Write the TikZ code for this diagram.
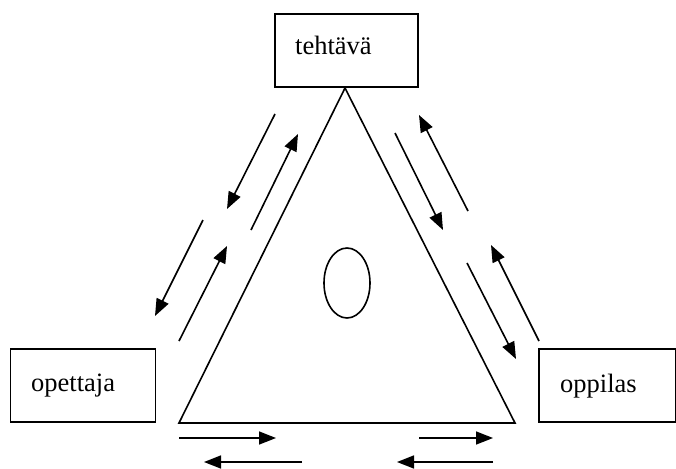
\documentclass[tikz,border=0pt]{standalone}
\usepackage{fontspec}
\setmainfont{Liberation Serif}
\usetikzlibrary{arrows.meta,shapes.geometric}
\begin{document}
\begin{tikzpicture}[x=1pt,y=-1pt,
  box/.style={draw,line width=1.6pt,rectangle,inner sep=0pt},
  lbl/.style={anchor=west,inner sep=0pt,font=\fontsize{26.5}{30}\selectfont},
  flow/.style={line width=1.6pt,-{Triangle[length=17pt,width=13pt]}},
  edge/.style={line width=1.6pt,line join=miter}]
\useasboundingbox (0,0) rectangle (676,468);
% boxes
\node[box,minimum width=143pt,minimum height=73pt] (teht) at (346.5,50.5) {};
\node[lbl] (tehtlbl) at (295,45) {tehtävä};
\node[box,minimum width=145pt,minimum height=73pt] (opet) at (83,385.5) {};
\node[lbl] (opetlbl) at (31,386) {opettaja};
\node[box,minimum width=137pt,minimum height=73pt] (oppi) at (607.5,385.5) {};
\node[lbl] (oppilbl) at (560,386) {oppilas};
% triangle
\coordinate (apex) at (345,88);
\coordinate (bl) at (179,423);
\coordinate (br) at (515,423);
\draw[edge] (apex) -- (bl) -- (br) -- cycle;
% ellipse
\node[draw,line width=1.6pt,ellipse,minimum width=46pt,minimum height=70pt,inner sep=0pt] (oval) at (347,283) {};
% left side arrows
\coordinate (a1) at (275,114); \coordinate (a2) at (227,209);
\coordinate (b1) at (251,230); \coordinate (b2) at (298,134);
\coordinate (c1) at (203,220); \coordinate (c2) at (155,316);
\coordinate (d1) at (179,341); \coordinate (d2) at (227,246);
\draw[flow] (a1) -- (a2);
\draw[flow] (b1) -- (b2);
\draw[flow] (c1) -- (c2);
\draw[flow] (d1) -- (d2);
% right side arrows
\coordinate (e1) at (468,211); \coordinate (e2) at (419,115);
\coordinate (f1) at (395,133); \coordinate (f2) at (443,230);
\coordinate (g1) at (539,341); \coordinate (g2) at (491,245);
\coordinate (h1) at (467,263); \coordinate (h2) at (516,359);
\draw[flow] (e1) -- (e2);
\draw[flow] (f1) -- (f2);
\draw[flow] (g1) -- (g2);
\draw[flow] (h1) -- (h2);
% bottom arrows
\coordinate (i1) at (179,438); \coordinate (i2) at (276,438);
\coordinate (j1) at (302,462); \coordinate (j2) at (204,462);
\coordinate (k1) at (419,438); \coordinate (k2) at (493,438);
\coordinate (l1) at (493,462); \coordinate (l2) at (397,462);
\draw[flow] (i1) -- (i2);
\draw[flow] (j1) -- (j2);
\draw[flow] (k1) -- (k2);
\draw[flow] (l1) -- (l2);
\end{tikzpicture}
\end{document}
